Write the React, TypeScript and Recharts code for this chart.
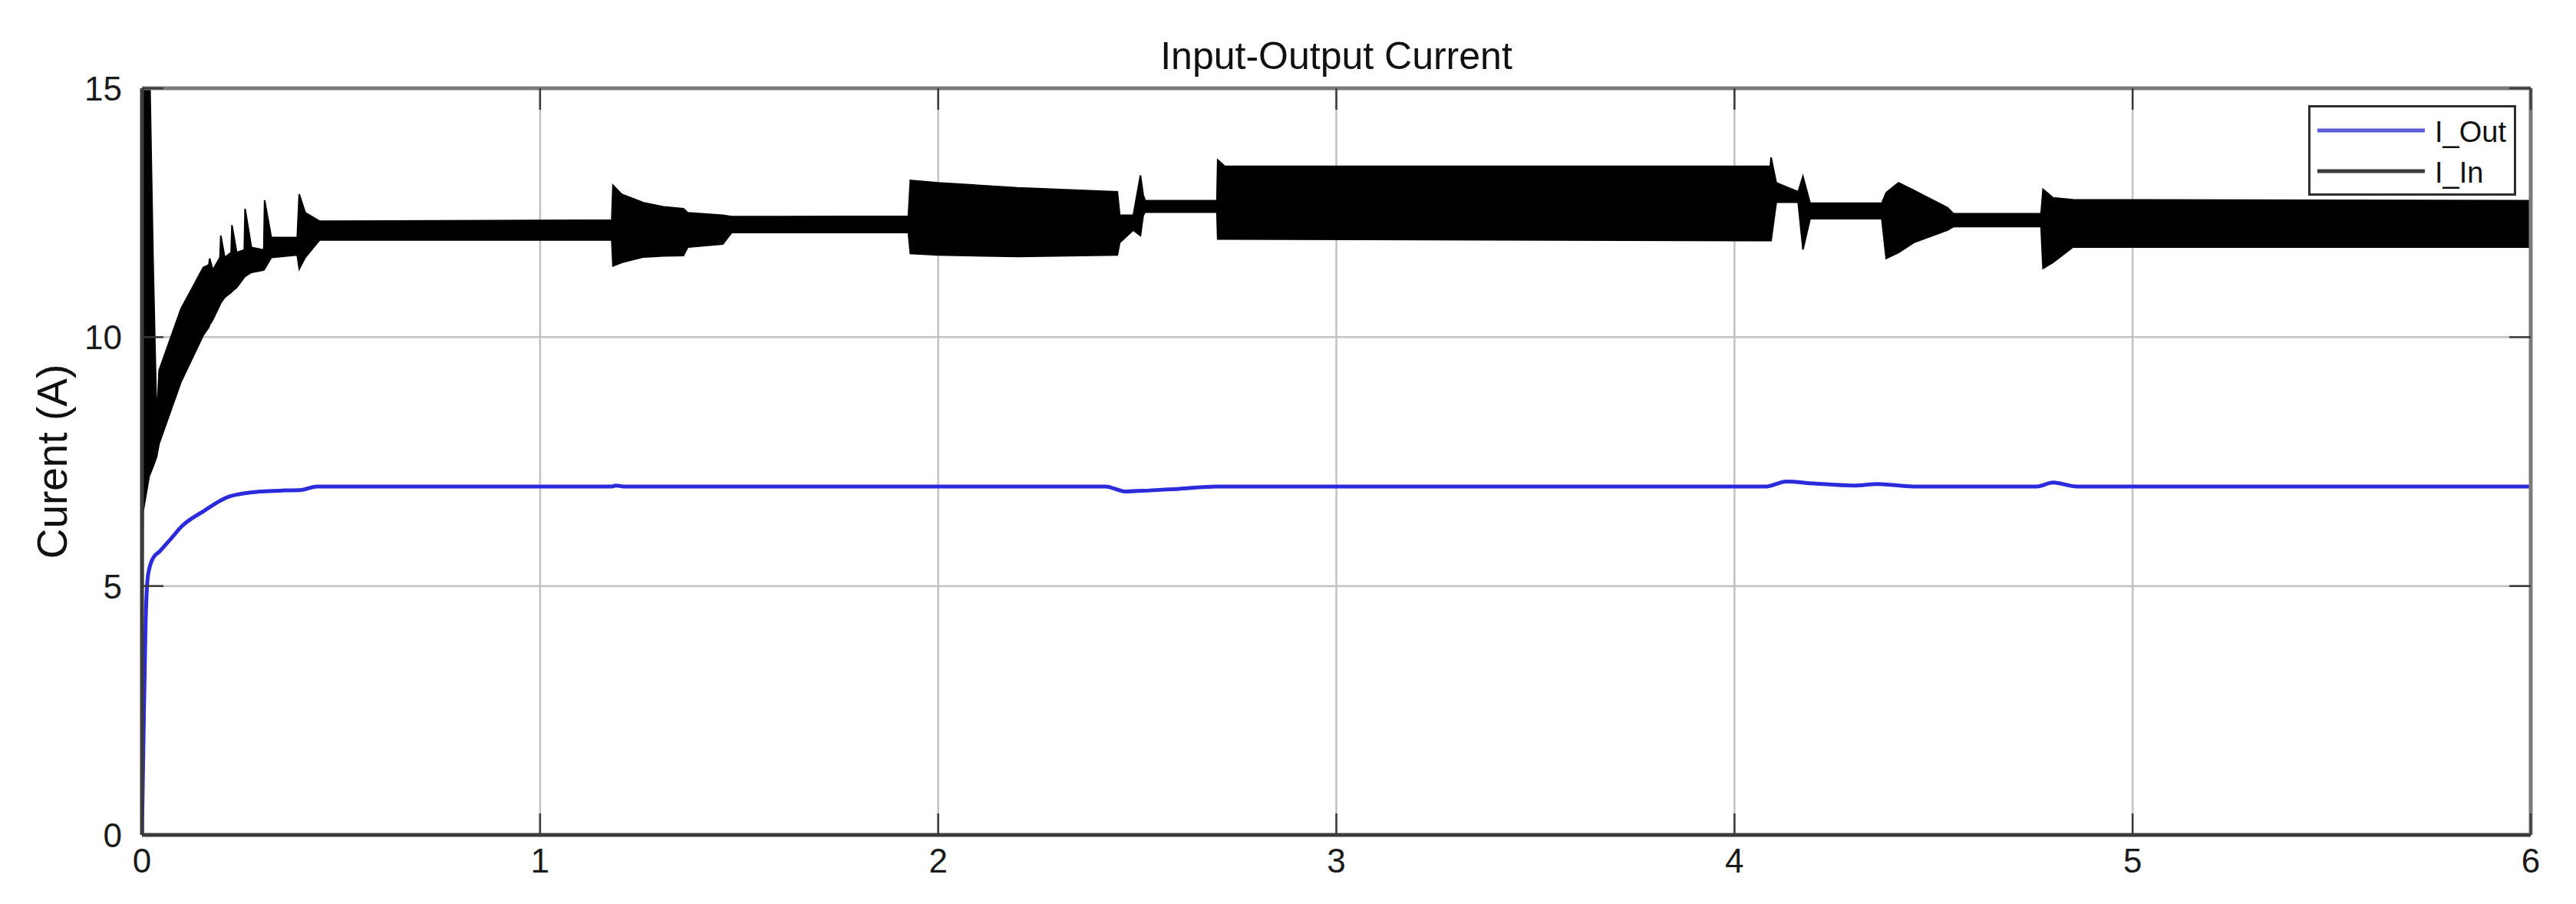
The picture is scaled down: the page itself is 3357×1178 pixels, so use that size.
import React from 'react';
import { ComposedChart, Area, Line, XAxis, YAxis, CartesianGrid, Legend, Label } from 'recharts';

// ---- data ----
const chartTitle = 'Input-Output Current';
const yAxisTitle = 'Curent (A)';
const seriesNames = ['I_Out', 'I_In'];
const xTicks = [0, 1, 2, 3, 4, 5, 6];
const yTicks = [0, 5, 10, 15];

// I_In: dense switching ripple, drawn as its min/max envelope
const inTime = [
  0, 0.003, 0.018, 0.028, 0.037, 0.043, 0.098, 0.154, 0.168, 0.17, 0.178, 0.196, 0.198, 0.208,
  0.224, 0.226, 0.238, 0.257, 0.259, 0.275, 0.306, 0.308, 0.325, 0.39, 0.395, 0.41, 0.446,
  1.18, 1.183, 1.205, 1.26, 1.31, 1.36, 1.371, 1.459, 1.481, 1.925, 1.93, 2.0, 2.2, 2.45, 2.456,
  2.49, 2.508, 2.515, 2.52, 2.7, 2.702, 2.72, 4.09, 4.092, 4.105, 4.16, 4.172, 4.19, 4.37,
  4.381, 4.412, 4.45, 4.535, 4.55, 4.77, 4.775, 4.8, 4.85, 6.0,
];
const inLow = [
  0, 6.5, 7.2, 7.4, 7.6, 7.86, 9.1, 10.04, 10.2, 10.25, 10.35, 10.65, 10.69, 10.8,
  10.9, 10.92, 11.0, 11.2, 11.22, 11.3, 11.35, 11.37, 11.6, 11.65, 11.37, 11.6, 11.95,
  11.95, 11.43, 11.5, 11.61, 11.63, 11.64, 11.81, 11.87, 12.1, 12.1, 11.68, 11.65, 11.62, 11.65, 11.9,
  12.15, 12.04, 12.45, 12.51, 12.51, 11.97, 11.97, 11.94, 11.94, 12.71, 12.71, 11.76, 12.38, 12.38,
  11.58, 11.7, 11.9, 12.15, 12.22, 12.22, 11.38, 11.5, 11.81, 11.81,
];
const inHigh = [
  0, 16, 16, 11.5, 8.3, 9.33, 10.57, 11.4, 11.45, 11.58, 11.35, 11.6, 12.04, 11.6,
  11.7, 12.25, 11.7, 11.75, 12.58, 11.8, 11.75, 12.75, 12.0, 12.0, 12.87, 12.5, 12.33,
  12.35, 13.05, 12.87, 12.7, 12.62, 12.58, 12.5, 12.45, 12.42, 12.43, 13.15, 13.1, 13.0, 12.92, 12.45,
  12.45, 13.25, 12.85, 12.74, 12.74, 13.56, 13.43, 13.43, 13.61, 13.1, 12.92, 13.23, 12.69, 12.69,
  12.9, 13.1, 12.95, 12.6, 12.48, 12.48, 12.97, 12.8, 12.76, 12.74,
];

// I_Out
const outTime = [
  0, 0.004, 0.009, 0.015, 0.027, 0.045, 0.076, 0.1, 0.154, 0.22, 0.3, 0.36, 0.4, 0.44,
  1.18, 1.19, 1.21, 2.42, 2.47, 2.53, 2.6, 2.7, 4.08, 4.13, 4.2, 4.3, 4.36, 4.45, 4.76, 4.8, 4.86, 6.0,
];
const outValue = [
  0, 2.0, 4.2, 5.2, 5.55, 5.7, 5.98, 6.2, 6.5, 6.8, 6.9, 6.92, 6.93, 7.0,
  7.0, 7.02, 7.0, 7.0, 6.9, 6.92, 6.95, 7.0, 7.0, 7.1, 7.06, 7.02, 7.05, 7.0, 7.0, 7.08, 7.0, 7.0,
];

// ---- styling ----
const FONT = '"Liberation Sans", Arial, Helvetica, sans-serif';
const OUT_COLOR = '#2b2bdc';
const IN_COLOR = '#000000';
const GRID_COLOR = '#c2c2c2';
const TICK_LEN = 28;
const X_MARGIN = 17;
const Y_MARGIN = 26;

type Row = { t: number; lo?: number; hi?: number; out?: number };

function buildRows(): Row[] {
  const map = new Map<number, Row>();
  inTime.forEach((t, i) => {
    const r = map.get(t) ?? { t };
    r.lo = inLow[i];
    r.hi = inHigh[i];
    map.set(t, r);
  });
  outTime.forEach((t, i) => {
    const r = map.get(t) ?? { t };
    r.out = outValue[i];
    map.set(t, r);
  });
  return Array.from(map.values()).sort((a, b) => a.t - b.t);
}

const rows = buildRows();

const BottomTick = (props: any) => {
  const { x, y, payload } = props;
  const axisY = y - X_MARGIN;
  return (
    <g>
      <line x1={x} x2={x} y1={axisY} y2={axisY - TICK_LEN} stroke="#3a3a3a" strokeWidth={2.5} />
      <text x={x} y={y} dy="0.72em" textAnchor="middle" fontSize={44} fill="#1a1a1a" fontFamily={FONT}>
        {payload.value}
      </text>
    </g>
  );
};

const LeftTick = (props: any) => {
  const { x, y, payload } = props;
  const axisX = x + Y_MARGIN;
  return (
    <g>
      <line x1={axisX} x2={axisX + TICK_LEN} y1={y} y2={y} stroke="#3a3a3a" strokeWidth={2.5} />
      <text x={x} y={y} dy="0.36em" textAnchor="end" fontSize={44} fill="#1a1a1a" fontFamily={FONT}>
        {payload.value}
      </text>
    </g>
  );
};

const TopTick = (props: any) => {
  const { x, y } = props;
  return <line x1={x} x2={x} y1={y} y2={y + TICK_LEN} stroke="#3a3a3a" strokeWidth={2.5} />;
};

const RightTick = (props: any) => {
  const { x, y } = props;
  return <line x1={x} x2={x - TICK_LEN} y1={y} y2={y} stroke="#3a3a3a" strokeWidth={2.5} />;
};

const LegendBox = () => {
  const legendColors = ['#5a5ad6', '#3a3a3a'];
  return (
    <svg width={271} height={118} style={{ display: 'block' }}>
      <rect x={1.5} y={1.5} width={268} height={115} fill="#ffffff" stroke="#2e2e2e" strokeWidth={3} />
      {seriesNames.map((name, i) => (
        <g key={name}>
          <line x1={12} x2={152} y1={33 + i * 53} y2={33 + i * 53} stroke={legendColors[i]} strokeWidth={5} />
          <text x={165} y={48 + i * 53} fontSize={38} fill="#111" fontFamily={FONT}>
            {name}
          </text>
        </g>
      ))}
    </svg>
  );
};

const YTitle = (props: any) => {
  const vb = props.viewBox || { x: 0, y: 0, width: 0, height: 0 };
  const cx = vb.x + 60;
  const cy = vb.y + vb.height / 2;
  return (
    <text
      x={cx}
      y={cy}
      transform={`rotate(-90 ${cx} ${cy})`}
      textAnchor="middle"
      dominantBaseline="central"
      fontSize={55}
      fill="#111"
      fontFamily={FONT}
    >
      {yAxisTitle}
    </text>
  );
};

const TopTitle = (props: any) => {
  const vb = props.viewBox || { x: 0, y: 0, width: 0, height: 0 };
  const cx = vb.x + vb.width / 2;
  return (
    <text x={cx} y={vb.y - 24} textAnchor="middle" fontSize={50} fill="#111" fontFamily={FONT}>
      {chartTitle}
    </text>
  );
};

export default function App() {
  return (
    <div style={{ fontFamily: FONT }}>
      <ComposedChart
        width={3349}
        height={1170}
        data={rows}
        margin={{ top: 106, right: 58, bottom: 30, left: 0 }}
      >
        <CartesianGrid stroke={GRID_COLOR} strokeWidth={2.5} />
        <XAxis
          dataKey="t"
          type="number"
          domain={[0, 6]}
          ticks={xTicks}
          allowDataOverflow
          height={60}
          tickSize={0}
          tickMargin={X_MARGIN}
          tick={<BottomTick />}
          axisLine={{ stroke: '#3c3c3c', strokeWidth: 5 }}
          tickLine={false}
        />
        <XAxis
          xAxisId="top"
          orientation="top"
          dataKey="t"
          type="number"
          domain={[0, 6]}
          ticks={xTicks}
          allowDataOverflow
          height={1}
          tickSize={0}
          tickMargin={0}
          tick={<TopTick />}
          axisLine={{ stroke: '#7a7a7a', strokeWidth: 5 }}
          tickLine={false}
        >
          <Label content={<TopTitle />} />
        </XAxis>
        <YAxis
          type="number"
          domain={[0, 15]}
          ticks={yTicks}
          allowDataOverflow
          width={177}
          tickSize={0}
          tickMargin={Y_MARGIN}
          tick={<LeftTick />}
          axisLine={{ stroke: '#3c3c3c', strokeWidth: 5 }}
          tickLine={false}
        >
          <Label content={<YTitle />} />
        </YAxis>
        <YAxis
          yAxisId="right"
          orientation="right"
          type="number"
          domain={[0, 15]}
          ticks={yTicks}
          allowDataOverflow
          width={1}
          tickSize={0}
          tickMargin={0}
          tick={<RightTick />}
          axisLine={{ stroke: '#7a7a7a', strokeWidth: 5 }}
          tickLine={false}
        />
        <Area
          name={seriesNames[1]}
          type="linear"
          dataKey={(d: Row) => (d.lo === undefined ? null : [d.lo, d.hi])}
          stroke={IN_COLOR}
          strokeWidth={2}
          fill={IN_COLOR}
          fillOpacity={1}
          connectNulls
          dot={false}
          activeDot={false}
          isAnimationActive={false}
        />
        <Line
          name={seriesNames[0]}
          type="monotone"
          dataKey="out"
          stroke={OUT_COLOR}
          strokeWidth={5}
          connectNulls
          dot={false}
          activeDot={false}
          isAnimationActive={false}
        />
        <Legend
          layout="horizontal"
          verticalAlign="middle"
          align="center"
          content={<LegendBox />}
          wrapperStyle={{ left: 3000, top: 129, width: 271, height: 118 }}
        />
      </ComposedChart>
    </div>
  );
}
